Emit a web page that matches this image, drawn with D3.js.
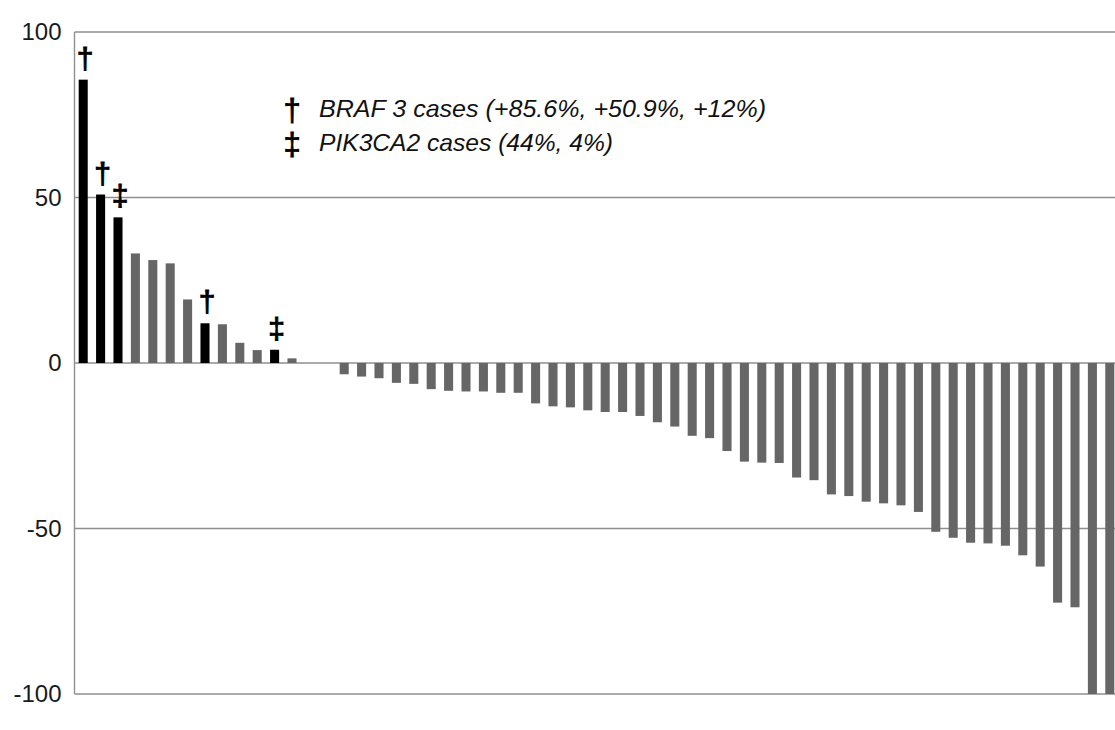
<!DOCTYPE html>
<html>
<head>
<meta charset="utf-8">
<script src="https://cdn.jsdelivr.net/npm/d3@7"></script>
<style>
  body { margin: 0; background: #fff; }
  svg { display: block; font-family: "Liberation Sans", Arial, sans-serif; }
</style>
</head>
<body>
<svg width="1115" height="730"></svg>
<script>
// percent change per case, sorted high to low
const values = [
    85.6, 50.9, 44, 33.1, 31.1, 30.1, 19.2, 12, 11.7, 6.1, 3.9, 4, 1.4, 0, 0,
    -3.4, -4.1, -4.6, -6.0, -6.3, -7.9, -8.4, -8.6, -8.6, -9.0, -9.0,
    -12.2, -13.1, -13.4, -14.3, -14.8, -14.8, -16.0, -17.9, -19.2, -22.0, -22.7,
    -26.6, -29.8, -30.1, -30.2, -34.6, -35.4, -39.7, -40.2, -41.9, -42.4, -43.0,
    -45.0, -51.0, -52.8, -54.3, -54.5, -55.2, -58.1, -61.5, -72.4, -73.8, -100, -100
];
const brafCases = [0, 1, 7];      // marked with †
const pik3caCases = [2, 11];      // marked with ‡
const yTicks = [100, 50, 0, -50, -100];
const legendLines = [
    { mark: "\u2020", text: "BRAF 3 cases (+85.6%, +50.9%, +12%)", len: 447 },
    { mark: "\u2021", text: "PIK3CA2 cases (44%, 4%)", len: 294 }
];

const svg = d3.select("svg");
const plotLeft = 74.5, plotTop = 32, plotBottom = 694;
const step = 17.4;
const plotRight = plotLeft + step * values.length;

const x = d3.scaleBand()
    .domain(d3.range(values.length))
    .range([plotLeft, plotRight])
    .paddingInner(0.48)
    .paddingOuter(0.24);

const y = d3.scaleLinear()
    .domain([-100, 100])
    .range([plotBottom, plotTop]);

// gridlines
svg.append("g")
    .selectAll("line")
    .data(yTicks)
    .enter().append("line")
    .attr("x1", plotLeft)
    .attr("x2", plotRight)
    .attr("y1", d => y(d))
    .attr("y2", d => y(d))
    .attr("stroke", "#8f8f8f")
    .attr("stroke-width", 1.4);

// left frame line
svg.append("line")
    .attr("x1", plotLeft).attr("x2", plotLeft)
    .attr("y1", y(100)).attr("y2", y(-100))
    .attr("stroke", "#8f8f8f")
    .attr("stroke-width", 1.4);

// y labels (plain hyphen for negatives, like the original)
const yAxis = d3.axisLeft(y)
    .tickValues(yTicks)
    .tickSize(0)
    .tickPadding(13)
    .tickFormat(d => String(d));
svg.append("g")
    .attr("transform", `translate(${plotLeft},0)`)
    .call(yAxis)
    .call(g => g.select(".domain").remove())
    .selectAll("text")
    .attr("font-family", "\"Liberation Sans\", Arial, sans-serif")
    .attr("font-size", 24)
    .attr("fill", "#1a1a1a");

const isMutant = i => brafCases.includes(i) || pik3caCases.includes(i);

// bars
svg.append("g")
    .selectAll("rect")
    .data(values)
    .enter().append("rect")
    .attr("x", (d, i) => x(i))
    .attr("width", x.bandwidth())
    .attr("y", d => y(Math.max(0, d)))
    .attr("height", d => Math.abs(y(d) - y(0)))
    .attr("fill", (d, i) => isMutant(i) ? "#000" : "#666");

// markers above mutant bars
const marks = brafCases.map(i => ({ i, m: "\u2020" }))
    .concat(pik3caCases.map(i => ({ i, m: "\u2021" })));
svg.append("g")
    .selectAll("text")
    .data(marks)
    .enter().append("text")
    .attr("x", d => x(d.i) + x.bandwidth() / 2 + 2)
    .attr("y", d => y(values[d.i]) - 11)
    .attr("text-anchor", "middle")
    .attr("font-size", 30)
    .attr("fill", "#000")
    .attr("stroke", "#000")
    .attr("stroke-width", 0.9)
    .text(d => d.m);

// legend
const legend = svg.append("g");
legendLines.forEach((l, k) => {
    const by = 116.7 + k * 34;
    legend.append("text")
        .attr("x", 292).attr("y", by + 4)
        .attr("text-anchor", "middle")
        .attr("font-size", 31)
        .attr("stroke", "#000")
        .attr("stroke-width", 0.8)
        .text(l.mark);
    legend.append("text")
        .attr("x", 319).attr("y", by)
        .attr("font-size", 24)
        .attr("font-style", "italic")
        .attr("fill", "#111")
        .attr("textLength", l.len)
        .attr("lengthAdjust", "spacingAndGlyphs")
        .text(l.text);
});
</script>
</body>
</html>
